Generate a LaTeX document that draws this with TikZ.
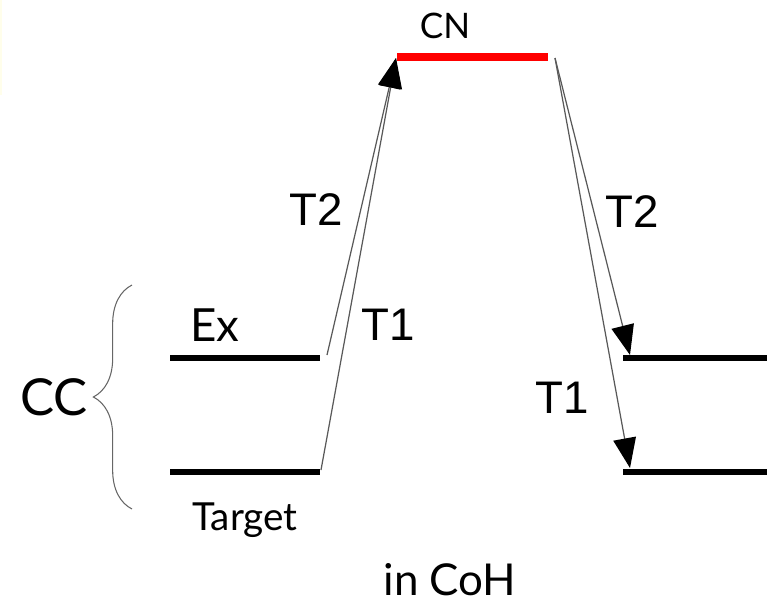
\documentclass[tikz,border=0pt]{standalone}
\usepackage{fontspec}
\setmainfont{Lato}
\newfontfamily\arialfont{Liberation Sans}
\usetikzlibrary{arrows.meta,positioning,decorations.pathreplacing}

\begin{document}
\begin{tikzpicture}[
  x=0.02cm, y=-0.02cm,
  level/.style={line width=3.9pt},
  trans/.style={draw=black!65, line width=0.7pt, -{Triangle[length=17pt, width=13pt, color=black]}},
  tlab/.style={anchor=base, font=\arialfont\fontsize{26}{26}\selectfont},
  big/.style={anchor=base, font=\fontsize{26}{26}\selectfont},
  small/.style={anchor=base, font=\fontsize{20}{20}\selectfont}
]
  \useasboundingbox (0,0) rectangle (767,605);
  \fill[yellow!8] (0,0) rectangle (2,95);

  % energy levels
  \coordinate (cn-l) at (397,57);  \coordinate (cn-r) at (548,57);
  \coordinate (ex-l) at (170,358); \coordinate (ex-r) at (320,358);
  \coordinate (tg-l) at (170,472); \coordinate (tg-r) at (320,472);
  \coordinate (up-l) at (623,358); \coordinate (up-r) at (767,358);
  \coordinate (lo-l) at (623,472); \coordinate (lo-r) at (767,472);

  \draw[level, red, line width=4.3pt] (cn-l) -- (cn-r);
  \draw[level] (ex-l) -- (ex-r);
  \draw[level] (tg-l) -- (tg-r);
  \draw[level] (up-l) -- (up-r);
  \draw[level] (lo-l) -- (lo-r);

  % ends of the transitions
  \coordinate (in2) at (327,355);
  \coordinate (in1) at (321,470);
  \coordinate (top-in) at (396,58);
  \coordinate (top-out) at (555,58);
  \coordinate (out2) at (630,355);
  \coordinate (out1) at (630,468);

  \draw[trans] (in2) -- (top-in);
  \draw[trans] (in1) -- (top-in);
  \draw[trans] (top-out) -- (out2);
  \draw[trans] (top-out) -- (out1);

  % labels
  \node[small] (cn) at (445,38) {CN};
  \node[big] (ex) at (215,341) {Ex};
  \node[small, font=\fontsize{22}{22}\selectfont] (tg) at (245,530) {Target};
  \node[big, font=\fontsize{29}{29}\selectfont] (cc) at (54,415) {CC};
  \node[big, font=\fontsize{25}{25}\selectfont, inner sep=0pt] (coh) at (450,595) {in CoH};
  \node[tlab] (t2a) at (316,225) {T2};
  \node[tlab] (t1a) at (388,340) {T1};
  \node[tlab] (t2b) at (632,227) {T2};
  \node[tlab] (t1b) at (562,413) {T1};

  \draw[black!60, line width=0.6pt, decorate, decoration={brace, amplitude=22pt}]
    (132,509) -- (132,285);
\end{tikzpicture}
\end{document}
